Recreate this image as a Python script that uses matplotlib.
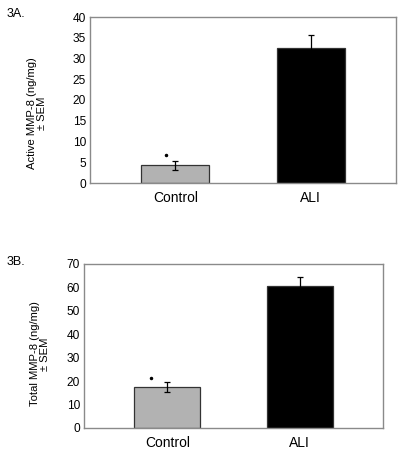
import matplotlib
matplotlib.use("Agg")
import matplotlib.pyplot as plt

# ── data ─────────────────────────────────────────────────────────────────────
groups       = ["Control", "ALI"]
active_mean  = [4.3, 32.5]
active_sem   = [1.1, 3.2]
active_star  = 6.7     # height of the significance mark over control
total_mean   = [17.5, 60.6]
total_sem    = [2.1, 3.8]
total_star   = 21.3
bar_colors   = ["#b2b2b2", "#000000"]

plt.rcParams["font.family"] = ["Liberation Sans", "DejaVu Sans"]

fig = plt.figure(figsize=(3.98, 4.51), dpi=100)
W, H = 398, 451


def px_axes(left, top, right, bottom):
    return fig.add_axes([left / W, 1 - bottom / H, (right - left) / W, (bottom - top) / H])


def draw_panel(ax, means, sems, star_y, star_dx, ymax, ystep):
    x = list(range(len(groups)))
    ax.bar(x, means, width=0.5, color=bar_colors, edgecolor="#333333", linewidth=0.9, zorder=2)
    ax.errorbar(x, means, yerr=sems, fmt="none", ecolor="black", elinewidth=0.9,
                capsize=2.5, capthick=0.9, zorder=3)
    ax.plot([x[0] + star_dx], [star_y], "o", color="black", markersize=1.5, zorder=3)
    ax.set_xlim(-0.63, 1.63)
    ax.set_ylim(0, ymax)
    ax.set_yticks(range(0, ymax + 1, ystep))
    ax.set_xticks(x)
    ax.set_xticklabels(groups, fontsize=10)
    ax.tick_params(axis="y", length=0, pad=3, labelsize=8.6)
    ax.tick_params(axis="x", length=0, pad=6)
    for s in ax.spines.values():
        s.set_color("#8a8a8a")
        s.set_linewidth(1.0)


ax1 = px_axes(90, 17, 396, 183)
draw_panel(ax1, active_mean, active_sem, active_star, -0.067, 40, 5)
ax2 = px_axes(84, 264, 383, 428)
draw_panel(ax2, total_mean, total_sem, total_star, -0.12, 70, 10)

fig.text(7 / W, 1 - 14 / H, "3A.", fontsize=9, va="center", ha="left")
fig.text(7 / W, 1 - 262 / H, "3B.", fontsize=9, va="center", ha="left")

fig.text(37 / W, 1 - 113 / H, "Active MMP-8 (ng/mg)\n\u00b1 SEM", rotation=90,
         ha="center", va="center", fontsize=8.1, linespacing=1.1)
fig.text(40 / W, 1 - 354 / H, "Total MMP-8 (ng/mg)\n\u00b1 SEM", rotation=90,
         ha="center", va="center", fontsize=8.1, linespacing=1.1)

fig.savefig("out.png", dpi=100)
